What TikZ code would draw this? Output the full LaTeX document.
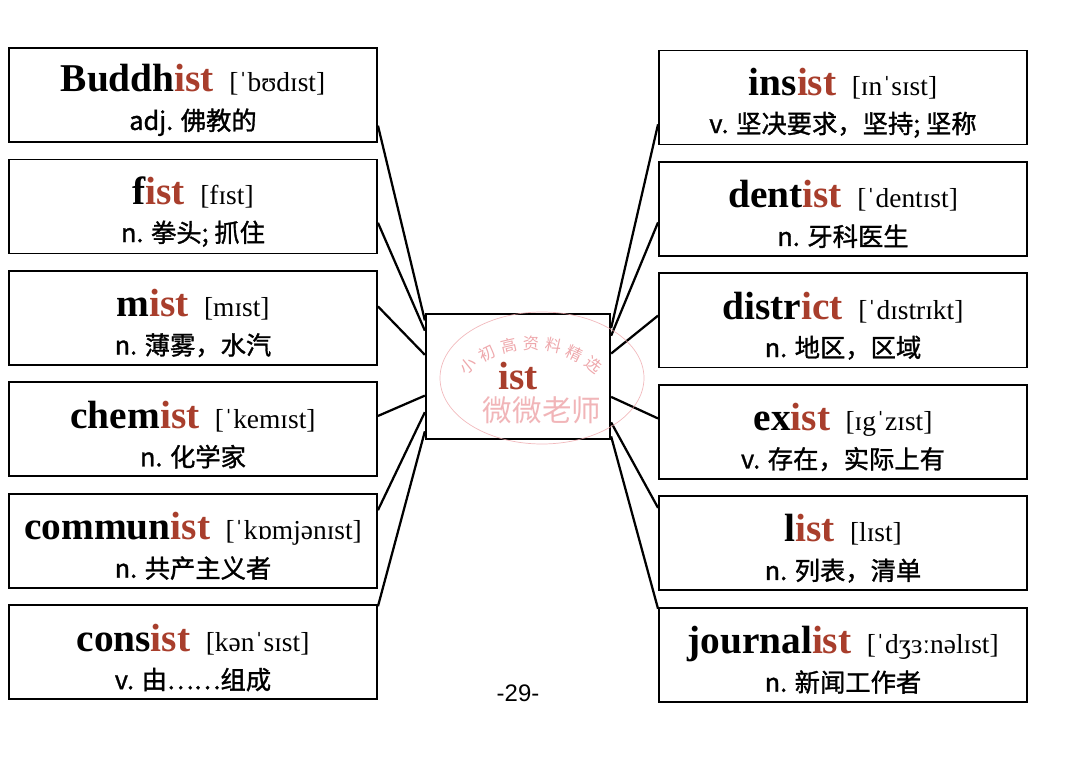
\documentclass[tikz,border=0pt]{standalone}
\usepackage{fontspec}
\setmainfont{Liberation Serif}
\newfontfamily\cnfont{Noto Sans CJK SC}[FakeBold=1.2]
\newfontfamily\wmfont{Noto Sans CJK SC}
\newfontfamily\numfont{Liberation Sans}
\usetikzlibrary{positioning, calc}
\definecolor{suffix}{RGB}{168,62,44}
\definecolor{stamp}{RGB}{238,168,172}
\newcommand{\hw}[3]{\rule{0pt}{27pt}{\fontsize{28}{30}\selectfont\bfseries #1\textcolor{suffix}{#2}}\hspace{11pt}{\fontsize{19.5}{22}\selectfont #3}}
\newcommand{\cn}[1]{{\cnfont #1}}

\begin{document}
\begin{tikzpicture}[x=0.025cm, y=-0.025cm, node distance=0.39cm,
  wordbox/.style={rectangle, draw, line width=1.3pt, minimum width=9.2cm, minimum height=2.35cm,
    align=center, inner sep=0pt, font=\fontsize{18}{27}\selectfont},
  link/.style={line width=1.6pt},
  stamptext/.style={text=stamp, inner sep=0pt, font=\wmfont\fontsize{11.5}{12}\selectfont}]
\useasboundingbox (0,0) rectangle (1080,762);

\node [wordbox] (buddhist) at (193,95) {\hw{Buddh}{ist}{[ˈbʊdɪst]}\\ \cn{adj. 佛教的}};
\node [wordbox, below = of buddhist] (fist) {\hw{f}{ist}{[fɪst]}\\ \cn{n. 拳头; 抓住}};
\node [wordbox, below = of fist] (mist) {\hw{m}{ist}{[mɪst]}\\ \cn{n. 薄雾，水汽}};
\node [wordbox, below = of mist] (chemist) {\hw{chem}{ist}{[ˈkemɪst]}\\ \cn{n. 化学家}};
\node [wordbox, below = of chemist] (communist) {\hw{commun}{ist}{[ˈkɒmjənɪst]}\\ \cn{n. 共产主义者}};
\node [wordbox, below = of communist] (consist) {\hw{cons}{ist}{[kənˈsɪst]}\\ \cn{v. 由……组成}};

\node [wordbox] (insist) at (843,97.5) {\hw{ins}{ist}{[ɪnˈsɪst]}\\ \cn{v. 坚决要求，坚持; 坚称}};
\node [wordbox, below = of insist] (dentist) {\hw{dent}{ist}{[ˈdentɪst]}\\ \cn{n. 牙科医生}};
\node [wordbox, below = of dentist] (district) {\hw{distr}{ict}{[ˈdɪstrɪkt]}\\ \cn{n. 地区，区域}};
\node [wordbox, below = of district] (exist) {\hw{ex}{ist}{[ɪgˈzɪst]}\\ \cn{v. 存在，实际上有}};
\node [wordbox, below = of exist] (list) {\hw{l}{ist}{[lɪst]}\\ \cn{n. 列表，清单}};
\node [wordbox, below = of list] (journalist) {\hw{journal}{ist}{[ˈdʒɜːnəlɪst]}\\ \cn{n. 新闻工作者}};

\node [rectangle, draw, line width=1.3pt, minimum width=4.61cm, minimum height=3.14cm,
  font=\fontsize{28}{30}\selectfont\bfseries, text=suffix] (root) at (518,376.5) {ist};

\foreach \w/\a/\b in {buddhist/0.82/0.06, fist/0.67/0.14, mist/0.38/0.33,
    chemist/0.36/0.65, communist/0.18/0.78, consist/0.02/0.93}
  \draw [link] ($(\w.north east)!\a!(\w.south east)$) -- ($(root.north west)!\b!(root.south west)$);
\foreach \w/\a/\b in {insist/0.78/0.12, dentist/0.64/0.18, district/0.45/0.32,
    exist/0.36/0.66, list/0.13/0.86, journalist/0.02/0.97}
  \draw [link] ($(\w.north west)!\a!(\w.south west)$) -- ($(root.north east)!\b!(root.south east)$);

\draw [stamp, line width=0.5pt, opacity=0.8] (542,378) ellipse [x radius=102, y radius=66];
\foreach \c [count=\i] in {小,初,高,资,料,精,选}
  \node [stamptext, rotate={39-13*(\i-1)}] (wm\i) at ($(531,443)+({-129+13*(\i-1)}:100)$) {\c};
\node [stamptext, font=\wmfont\fontsize{21}{21}\selectfont, opacity=0.85] (wmname) at (542,410) {微微老师};

\node [font=\numfont\fontsize{17}{20}\selectfont] (page) at (518,693) {-29-};
\end{tikzpicture}
\end{document}
